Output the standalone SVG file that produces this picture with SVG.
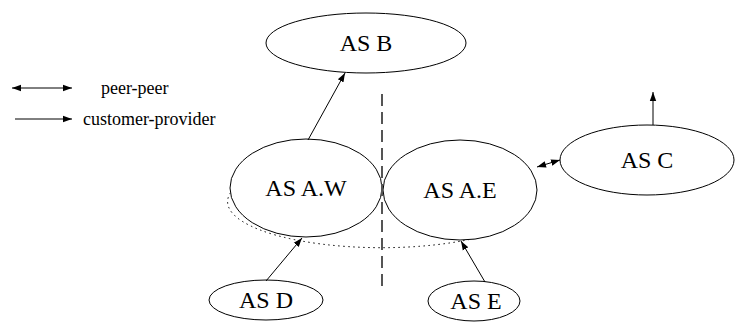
<svg xmlns="http://www.w3.org/2000/svg" width="736" height="326" viewBox="0 0 736 326">
  <defs>
    <marker id="head" markerUnits="userSpaceOnUse" markerWidth="10" markerHeight="8" refX="9" refY="4" orient="auto">
      <path d="M0,0.8 L9,4 L0,7.2 Z" fill="#000"/>
    </marker>
    <marker id="tail" markerUnits="userSpaceOnUse" markerWidth="10" markerHeight="8" refX="0" refY="4" orient="auto">
      <path d="M9,0.8 L0,4 L9,7.2 Z" fill="#000"/>
    </marker>
  </defs>
  <style>
    text { font-family: 'Liberation Serif', 'DejaVu Serif', 'Times New Roman', Tinos, 'Nimbus Roman', FreeSerif, serif; fill: #000; }
    .node { fill: #fff; stroke: #000; stroke-width: 1; }
    .label { font-size: 24px; text-anchor: middle; }
    .legend { font-size: 18px; }
    .edge { stroke: #000; stroke-width: 1; fill: none; }
    .group { fill: none; stroke: #000; stroke-width: 1; stroke-dasharray: 1.5 3.5; }
    .divider { stroke: #555; stroke-width: 2; stroke-dasharray: 12 6; }
  </style>

  <rect width="736" height="326" fill="#fff"/>

  <!-- legend -->
  <g id="legend">
    <line class="edge" x1="12" y1="88" x2="72" y2="88" marker-start="url(#tail)" marker-end="url(#head)"/>
    <text class="legend" x="101" y="94">peer-peer</text>
    <line class="edge" x1="15" y1="119" x2="72" y2="119" marker-end="url(#head)"/>
    <text class="legend" x="83" y="125">customer-provider</text>
  </g>

  <!-- dotted outline of AS A: only the part left of and below the two halves shows -->
  <g id="as-a">
    <path class="group" d="M245.8,180 A154,46 0 0 0 503,230"/>
  </g>

  <g id="as-b">
    <ellipse class="node" cx="366" cy="43" rx="100" ry="30"/>
    <text class="label" x="366" y="51">AS B</text>
  </g>

  <g id="as-aw">
    <ellipse class="node" cx="306" cy="188" rx="76" ry="49"/>
    <text class="label" x="306" y="196">AS A.W</text>
  </g>

  <g id="as-ae">
    <ellipse class="node" cx="460" cy="190" rx="77" ry="50"/>
    <text class="label" x="460" y="198">AS A.E</text>
  </g>

  <g id="as-c">
    <ellipse class="node" cx="647" cy="160" rx="87" ry="35"/>
    <text class="label" x="647" y="168">AS C</text>
  </g>

  <g id="as-d">
    <ellipse class="node" cx="266" cy="300" rx="57" ry="20"/>
    <text class="label" x="266" y="308">AS D</text>
  </g>

  <g id="as-e">
    <ellipse class="node" cx="474" cy="301" rx="46" ry="20"/>
    <text class="label" x="476" y="309">AS E</text>
  </g>

  <!-- west/east split of AS A -->
  <g id="split">
    <line class="divider" x1="382" y1="94" x2="382" y2="288"/>
  </g>

  <!-- connectors -->
  <g id="connectors">
    <line class="edge" x1="308" y1="140" x2="345" y2="73" marker-end="url(#head)"/>
    <line class="edge" x1="266" y1="281" x2="302" y2="238" marker-end="url(#head)"/>
    <line class="edge" x1="485" y1="282" x2="461" y2="241" marker-end="url(#head)"/>
    <line class="edge" x1="537" y1="167" x2="560" y2="160" marker-start="url(#tail)" marker-end="url(#head)"/>
    <line class="edge" x1="653" y1="125" x2="653" y2="92" marker-end="url(#head)"/>
  </g>
</svg>
